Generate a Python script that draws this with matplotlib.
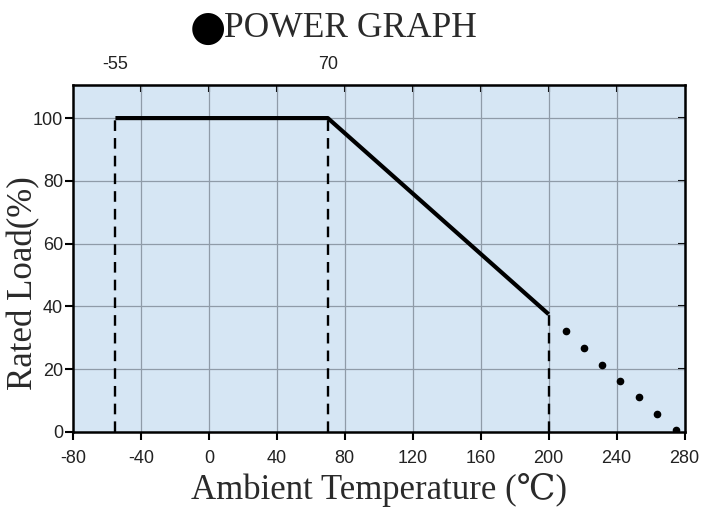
import numpy as np
import matplotlib.pyplot as plt

plt.rcParams['axes.unicode_minus'] = False

# derating curve
temp = [-55, 70, 200]
load = [100, 100, 37.5]

# dotted continuation beyond 200
dot_temp = [210.5, 221, 231.5, 242, 253, 264, 275]
dot_load = [32, 26.7, 21.3, 16.2, 11.1, 5.7, 0.5]

# dashed drop lines
drop_temp = [-55, 70, 200]
drop_load = [100, 100, 37.5]

xticks = [-80, -40, 0, 40, 80, 120, 160, 200, 240, 280]
yticks = [0, 20, 40, 60, 80, 100]
top_ticks = [-55, 70]

serif = ['Liberation Serif', 'DejaVu Serif', 'DejaVu Sans']
sans = ['Liberation Sans', 'DejaVu Sans']

fig = plt.figure(figsize=(7.05, 5.16), dpi=100)
ax = fig.add_axes([0.1035, 0.163, 0.8675, 0.672])
ax.set_facecolor("#d6e6f4")

ax.set_xlim(-80, 280)
ax.set_ylim(0, 110.5)

for x in xticks[1:-1]:
    ax.axvline(x, color="#8f9ba8", lw=0.9, zorder=1)
for y in yticks[1:]:
    ax.axhline(y, color="#8f9ba8", lw=0.9, zorder=1)

ax.plot(temp, load, color="black", lw=3, solid_capstyle="butt", zorder=3)
for x, y in zip(drop_temp, drop_load):
    ax.plot([x, x], [0, y], color="black", lw=1.7, ls=(0, (4.5, 3)), zorder=2)
ax.plot(dot_temp, dot_load, "o", color="black", ms=4.5, zorder=3)

ax.set_xticks(xticks)
ax.set_yticks(yticks)
ax.tick_params(direction="out", length=6, width=1.5, labelsize=13)
ax.tick_params(axis="x", pad=7)
ax.tick_params(axis="y", pad=1)
for lab in ax.get_xticklabels() + ax.get_yticklabels():
    lab.set_family(sans)
    lab.set_color("#222222")

for s in ax.spines.values():
    s.set_linewidth(1.8)

# top axis: inward ticks at grid positions, labels only at -55 and 70
top = ax.secondary_xaxis("top")
top.set_xticks(xticks[1:-1])
top.tick_params(direction="in", length=5, width=1.5, labelsize=0, labeltop=False)
top2 = ax.secondary_xaxis("top")
top2.set_xticks(top_ticks)
top2.tick_params(length=0, labelsize=13, pad=9)
for lab in top2.get_xticklabels():
    lab.set_family(sans)
    lab.set_color("#222222")
top2.spines["top"].set_visible(False)

# right side inward ticks
right = ax.secondary_yaxis("right")
right.set_yticks(yticks[1:])
right.tick_params(direction="in", length=5, width=1.5, labelright=False)

ax.set_xlabel("Ambient Temperature (℃)", fontsize=25, family=serif, color="#2a2a2a", labelpad=4)
ax.set_ylabel("Rated Load(%)", fontsize=25, family=serif, color="#2a2a2a", labelpad=-5)
ax.yaxis.label.set_y(0.43)

fig.text(0.321, 0.945, "●", ha="right", va="center", fontsize=30, family=['DejaVu Sans'], color="black")
fig.text(0.318, 0.945, "POWER GRAPH", ha="left", va="center", fontsize=25.5, family=serif, color="#2a2a2a")

fig.savefig("out.png", dpi=100)
